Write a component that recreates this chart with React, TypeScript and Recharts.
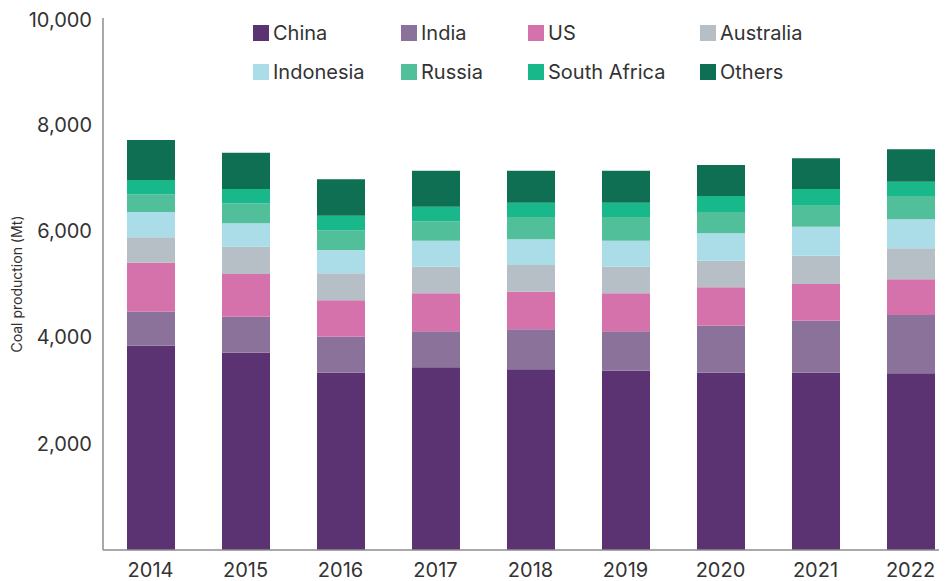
import React from "react";
import { BarChart, Bar, XAxis, YAxis } from "recharts";

const years = ["2014", "2015", "2016", "2017", "2018", "2019", "2020", "2021", "2022"];
const china = [3840, 3709, 3333, 3434, 3397, 3371, 3333, 3333, 3321];
const india = [640, 677, 677, 677, 752, 740, 883, 978, 1096];
const us = [921, 802, 683, 714, 707, 714, 722, 689, 671];
const australia = [478, 514, 508, 500, 502, 500, 501, 533, 583];
const indonesia = [475, 438, 438, 489, 483, 489, 514, 545, 545];
const russia = [333, 377, 370, 365, 419, 446, 401, 408, 438];
const southAfrica = [269, 269, 275, 274, 269, 269, 300, 300, 269];
const others = [752, 682, 684, 677, 601, 601, 583, 578, 609];
const yTicks = [2000, 4000, 6000, 8000, 10000];

const series = [
  { key: "China", values: china, color: "#5b3272" },
  { key: "India", values: india, color: "#8b729b" },
  { key: "US", values: us, color: "#d672ab" },
  { key: "Australia", values: australia, color: "#b5bfc5" },
  { key: "Indonesia", values: indonesia, color: "#abdde8" },
  { key: "Russia", values: russia, color: "#52bf9b" },
  { key: "South Africa", values: southAfrica, color: "#19b88b" },
  { key: "Others", values: others, color: "#0f6f52" },
];

const data = years.map((year, i) => {
  const row: Record<string, string | number> = { year };
  series.forEach((s) => {
    row[s.key] = s.values[i];
  });
  return row;
});

const FONT = "Inter, 'Open Sans', sans-serif";
const TEXT = "#333333";
const AXIS = "#8c8c8c";

// legend drawn as plain html on top of the chart so it takes no room from the plot
const LegendGrid = () => (
  <div
    style={{
      position: "absolute",
      top: 12,
      left: 245,
      display: "grid",
      gridTemplateColumns: "148px 127px 172px 150px",
      gridAutoRows: "26px",
      rowGap: 13,
      fontFamily: FONT,
      fontSize: 20,
      color: TEXT,
    }}
  >
    {series.map((s) => (
      <div key={s.key} style={{ display: "flex", alignItems: "center" }}>
        <span
          style={{
            width: 16,
            height: 16,
            background: s.color,
            marginRight: 4,
            display: "inline-block",
          }}
        />
        <span>{s.key}</span>
      </div>
    ))}
  </div>
);

const App = () => {
  return (
    <div style={{ position: "relative", width: 939, height: 573, overflow: "hidden" }}>
      <BarChart
        width={952}
        height={573}
        data={data}
        margin={{ top: 10, right: 2, left: 0, bottom: 1 }}
        barSize={48}
      >
        <XAxis
          dataKey="year"
          height={30}
          tickLine={false}
          tickSize={0}
          tickMargin={13}
          axisLine={{ stroke: AXIS, strokeWidth: 1.5 }}
          tick={{ fill: TEXT, fontSize: 20, fontFamily: FONT }}
        />
        <YAxis
          width={95}
          domain={[0, 10000]}
          ticks={yTicks}
          tickLine={false}
          tickSize={0}
          tickMargin={11}
          axisLine={{ stroke: AXIS, strokeWidth: 1.5 }}
          tick={{ fill: TEXT, fontSize: 20, fontFamily: FONT }}
          tickFormatter={(v: number) => v.toLocaleString("en-US")}
          label={{
            value: "Coal production (Mt)",
            angle: -90,
            position: "insideLeft",
            offset: 9,
            style: { fill: TEXT, fontSize: 14, fontFamily: FONT, textAnchor: "middle" },
          }}
        />
        {series.map((s) => (
          <Bar
            key={s.key}
            dataKey={s.key}
            stackId="a"
            fill={s.color}
            isAnimationActive={false}
          />
        ))}
      </BarChart>
      <LegendGrid />
    </div>
  );
};

export default App;
